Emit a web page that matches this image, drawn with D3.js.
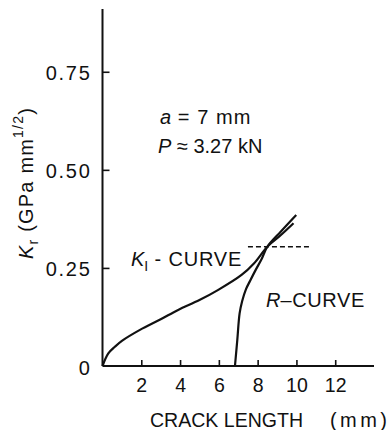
<!DOCTYPE html>
<html>
<head>
<meta charset="utf-8">
<script src="https://cdn.jsdelivr.net/npm/d3@7"></script>
<style>
  html, body { margin: 0; padding: 0; background: #fff; }
  svg text { font-family: "Liberation Sans", Arial, sans-serif; fill: #111; }
</style>
</head>
<body>
<svg id="chart" width="390" height="430"></svg>
<script>
// Stress-intensity curve K_I and resistance curve R versus crack length
const kiCrack = [0, 0.3, 0.64, 1.0, 1.93, 3.0, 3.9, 5.0, 5.97, 7.17, 7.82, 8.5, 9.2, 9.85];
const kiValue = [0, 0.032, 0.049, 0.064, 0.092, 0.119, 0.143, 0.168, 0.194, 0.232, 0.262, 0.304, 0.334, 0.364];

const rCrack = [6.83, 6.95, 7.07, 7.2, 7.4, 7.62, 7.9, 8.2, 8.5, 9.2, 9.99];
const rValue = [0, 0.066, 0.134, 0.165, 0.196, 0.218, 0.245, 0.272, 0.304, 0.343, 0.385];

const xTicks = [2, 4, 6, 8, 10, 12];
const yTicks = [0, 0.25, 0.5, 0.75];
const yTickLabels = ["0", "0.25", "0.50", "0.75"];

const critLevel = 0.304;      // dashed instability level
const critSpan = [7.5, 10.8];

const FONT = "Liberation Sans, Arial, sans-serif";

const svg = d3.select("#chart");
const x = d3.scaleLinear().domain([0, 14]).range([102.5, 374]);
const y = d3.scaleLinear().domain([0, 0.91]).range([366, 9]);

// axes: ticks point into the plot
const xAxis = d3.axisBottom(x).tickValues(xTicks).tickSize(-6).tickPadding(11).tickFormat(d3.format("d"));
const gx = svg.append("g").attr("transform", `translate(0,${y(0)})`).call(xAxis);
gx.select(".domain").attr("stroke", "#111").attr("stroke-width", 2).attr("d", `M${x(0)},0H${x(14)}`);
gx.selectAll(".tick line").attr("stroke", "#111").attr("stroke-width", 1.6);
gx.selectAll(".tick text").attr("font-size", 19.5).attr("fill", "#111")
  .attr("font-family", FONT).attr("dy", "0.75em");

const yAxis = d3.axisLeft(y).tickValues(yTicks).tickSize(-7).tickPadding(11)
  .tickFormat((d, i) => yTickLabels[i]);
const gy = svg.append("g").attr("transform", `translate(${x(0)},0)`).call(yAxis);
gy.select(".domain").attr("stroke", "#111").attr("stroke-width", 2).attr("d", `M0,${y(0)}V${y(0.91)}`);
gy.selectAll(".tick line").attr("stroke", "#111").attr("stroke-width", 1.6)
  .attr("display", d => d === 0 ? "none" : null);
gy.selectAll(".tick text").attr("font-size", 20).attr("fill", "#111")
  .attr("font-family", FONT).attr("letter-spacing", 1.7)
  .attr("dy", "0.4em");

// curves
const line = d3.line().x(d => x(d[0])).y(d => y(d[1])).curve(d3.curveCatmullRom.alpha(0.5));
const kiPts = kiCrack.map((c, i) => [c, kiValue[i]]);
const rPts = rCrack.map((c, i) => [c, rValue[i]]);

svg.append("path").attr("d", line(kiPts)).attr("fill", "none")
  .attr("stroke", "#111").attr("stroke-width", 2.2);
svg.append("path").attr("d", line(rPts)).attr("fill", "none")
  .attr("stroke", "#111").attr("stroke-width", 2.2);

// dashed critical level
svg.append("line")
  .attr("x1", x(critSpan[0])).attr("x2", x(critSpan[1]))
  .attr("y1", y(critLevel)).attr("y2", y(critLevel))
  .attr("stroke", "#111").attr("stroke-width", 1.4).attr("stroke-dasharray", "5,3");

// curve labels
const kLab = svg.append("text").attr("x", 131).attr("y", 266).attr("font-size", 20);
kLab.append("tspan").attr("font-style", "italic").text("K");
kLab.append("tspan").attr("font-size", 14).attr("dy", 5).text("I");
kLab.append("tspan").attr("dy", -5).attr("letter-spacing", 0.8).text(" - CURVE");

const rLab = svg.append("text").attr("x", 266).attr("y", 307).attr("font-size", 20);
rLab.append("tspan").attr("font-style", "italic").text("R");
rLab.append("tspan").attr("letter-spacing", 0.6).text("\u2013CURVE");

// test conditions
const aLab = svg.append("text").attr("x", 160).attr("y", 124).attr("font-size", 20);
aLab.append("tspan").attr("font-style", "italic").text("a");
aLab.append("tspan").attr("letter-spacing", 1.1).text(" = 7 mm");

const pLab = svg.append("text").attr("x", 158).attr("y", 153).attr("font-size", 20);
pLab.append("tspan").attr("font-style", "italic").text("P");
pLab.append("tspan").text(" \u2248 3.27  kN");

// axis titles
svg.append("text").attr("x", 150).attr("y", 427).attr("font-size", 20)
  .attr("textLength", 153).attr("lengthAdjust", "spacingAndGlyphs").text("CRACK LENGTH");
svg.append("text").attr("x", 330).attr("y", 427).attr("font-size", 20)
  .attr("textLength", 57).attr("lengthAdjust", "spacing").text("(mm)");

const yt = svg.append("text").attr("transform", "translate(33,183) rotate(-90)")
  .attr("text-anchor", "middle").attr("font-size", 20).attr("letter-spacing", 1.2);
yt.append("tspan").attr("font-style", "italic").text("K");
yt.append("tspan").attr("font-size", 14).attr("dy", 5).text("r");
yt.append("tspan").attr("dy", -5).text(" (GPa mm");
yt.append("tspan").attr("font-size", 14).attr("dy", -10).text("1/2");
yt.append("tspan").attr("dy", 10).text(")");
</script>
</body>
</html>
